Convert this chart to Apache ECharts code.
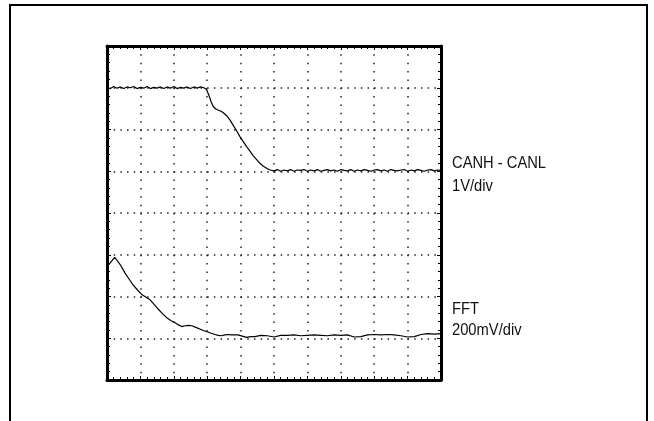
<!DOCTYPE html>
<html>
<head>
<meta charset="utf-8">
<script src="https://cdn.jsdelivr.net/npm/echarts@6/dist/echarts.min.js"></script>
<style>
html,body{margin:0;padding:0;background:#fff;}
#c{width:654px;height:421px;}
</style>
</head>
<body>
<div id="c"></div>
<script>
// Division units: x 0..10 div, y 0..8 div
const xTicks = [0,1,2,3,4,5,6,7,8,9,10];
const yTicks = [0,1,2,3,4,5,6,7,8];

const canTimes = [0,0.1,0.2,0.3,0.4,0.5,0.6,0.7,0.8,0.9,1.0,1.1,1.2,1.3,1.4,1.5,1.6,1.7,1.8,1.9,2.0,2.1,2.2,2.3,2.4,2.5,2.6,2.7,2.8,2.9,
  2.98,3.05,3.12,3.18,3.26,3.34,3.43,3.5,3.58,3.68,3.78,3.88,3.98,4.08,4.18,4.28,4.38,4.48,4.58,4.68,4.78,4.88,
  5.0,5.1,5.2,5.3,5.4,5.5,5.6,5.7,5.8,5.9,6.0,6.1,6.2,6.3,6.4,6.5,6.6,6.7,6.8,6.9,7.0,7.1,7.2,7.3,7.4,7.5,7.6,7.7,7.8,7.9,
  8.0,8.1,8.2,8.3,8.4,8.5,8.6,8.7,8.8,8.9,9.0,9.1,9.2,9.3,9.4,9.5,9.6,9.7,9.8,9.9,10.0];
const canValues = [7.01,6.98,7.03,6.99,7.02,6.98,7.02,7.0,7.03,6.98,7.01,6.99,7.03,6.98,7.01,6.99,7.02,6.98,7.02,6.99,7.03,6.98,7.01,6.99,7.02,6.98,7.02,6.99,7.02,7.0,
  6.96,6.82,6.66,6.55,6.49,6.46,6.43,6.39,6.33,6.23,6.10,5.97,5.83,5.71,5.59,5.48,5.37,5.28,5.19,5.12,5.07,5.03,
  5.01,5.04,5.0,5.03,5.01,5.04,5.0,5.03,5.02,5.04,5.0,5.03,5.01,5.04,5.0,5.02,5.04,5.01,5.03,5.0,5.04,5.02,5.01,5.04,5.0,5.03,5.01,5.04,5.02,5.0,
  5.03,5.04,5.01,5.03,5.0,5.04,5.02,5.01,5.03,5.04,5.0,5.03,5.01,5.04,5.02,5.0,5.03,5.04,5.01,5.03,5.02];

const fftTimes = [0.04,0.23,0.4,0.54,0.66,0.78,0.92,1.05,1.17,1.29,1.41,1.53,1.66,1.79,1.92,2.04,2.14,2.24,2.34,2.44,2.54,2.66,2.78,2.9,3.02,3.12,3.23,3.33,3.43,3.53,3.62,3.72,3.82,3.92,4.05,4.18,4.3,4.43,
  4.6,4.8,5.0,5.2,5.4,5.6,5.8,6.0,6.2,6.4,6.6,6.8,7.0,7.2,7.4,7.6,7.8,8.0,8.2,8.4,8.6,8.8,9.0,9.2,9.4,9.6,9.8,10.0];
const fftValues = [2.75,2.94,2.76,2.56,2.42,2.28,2.15,2.04,1.98,1.92,1.81,1.70,1.59,1.49,1.42,1.37,1.32,1.28,1.30,1.31,1.30,1.26,1.22,1.18,1.15,1.12,1.09,1.07,1.06,1.08,1.09,1.08,1.08,1.08,1.05,1.02,1.04,1.04,
  1.07,1.06,1.03,1.07,1.07,1.08,1.06,1.07,1.08,1.07,1.06,1.08,1.07,1.08,1.03,1.04,1.08,1.09,1.08,1.09,1.08,1.06,1.03,1.04,1.09,1.11,1.10,1.11];

const labels = [
  {title: 'CANH - CANL', scale: '1V/div'},
  {title: 'FFT', scale: '200mV/div'}
];

function zip(a, b) {
  const n = Math.min(a.length, b.length), out = [];
  for (let i = 0; i < n; i++) out.push([a[i], b[i]]);
  return out;
}

const chart = echarts.init(document.getElementById('c'), null, {renderer: 'canvas'});
const GRID = {left: 107, top: 46, width: 334, height: 334};
const fontFam = '"Liberation Sans", Arial, Helvetica, sans-serif';

function xAxisCfg(pos, showSplit) {
  return {
    type: 'value', position: pos, min: xTicks[0], max: xTicks[xTicks.length-1], interval: 1,
    axisLine: {show: true, onZero: false, lineStyle: {color: '#000', width: 3}},
    axisTick: {show: true, inside: true, length: 4, lineStyle: {color: '#000', width: 1}},
    minorTick: {show: true, splitNumber: 5, length: 3, lineStyle: {color: '#000', width: 1}},
    axisLabel: {show: false},
    splitLine: {show: showSplit, lineStyle: {color: '#222', width: 1.5, type: [1.5, 6.85]}}
  };
}
function yAxisCfg(pos, showSplit) {
  return {
    type: 'value', position: pos, min: yTicks[0], max: yTicks[yTicks.length-1], interval: 1,
    axisLine: {show: true, onZero: false, lineStyle: {color: '#000', width: 3}},
    axisTick: {show: true, inside: true, length: 4, lineStyle: {color: '#000', width: 1}},
    minorTick: {show: true, splitNumber: 5, length: 3, lineStyle: {color: '#000', width: 1}},
    axisLabel: {show: false},
    splitLine: {show: showSplit, lineStyle: {color: '#222', width: 1.5, type: [1.5, 5.18]}}
  };
}

const graphics = [
  {type: 'polyline', shape: {points: [[10, 421], [10, 5], [647, 5], [647, 421]]},
   style: {stroke: '#000', lineWidth: 2, fill: null}, z: 100}
];
const textTops = [[155.5, 178.5], [301.5, 322.5]];
labels.forEach((l, i) => {
  graphics.push({type: 'text', x: 452, y: textTops[i][0], scaleX: 0.92,
    style: {text: l.title, font: '16px ' + fontFam, fill: '#111', textVerticalAlign: 'top'}, z: 100});
  graphics.push({type: 'text', x: 452, y: textTops[i][1], scaleX: 0.92,
    style: {text: l.scale, font: '16px ' + fontFam, fill: '#111', textVerticalAlign: 'top'}, z: 100});
});

chart.setOption({
  animation: false,
  backgroundColor: '#fff',
  grid: GRID,
  xAxis: [xAxisCfg('bottom', true), xAxisCfg('top', false)],
  yAxis: [yAxisCfg('left', true), yAxisCfg('right', false)],
  series: [
    {type: 'line', name: 'CANH - CANL', data: zip(canTimes, canValues), showSymbol: false, symbol: 'none',
     lineStyle: {color: '#000', width: 1.2}, z: 5},
    {type: 'line', name: 'FFT', data: zip(fftTimes, fftValues), showSymbol: false, symbol: 'none',
     lineStyle: {color: '#000', width: 1.2}, z: 5}
  ],
  graphic: graphics
});
</script>
</body>
</html>
